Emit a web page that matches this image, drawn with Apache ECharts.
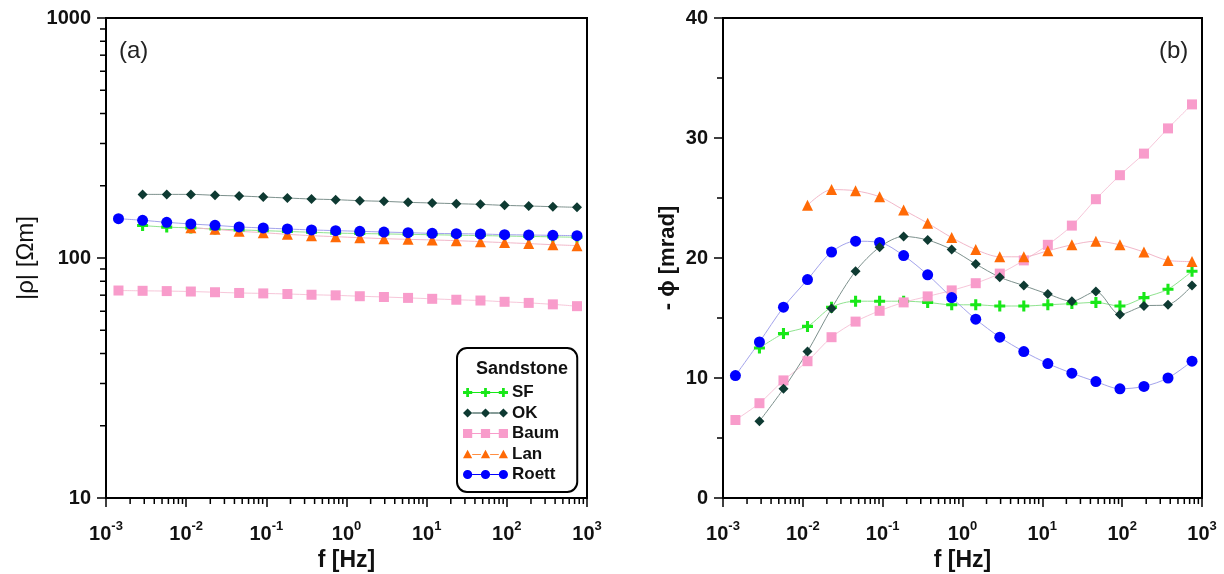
<!DOCTYPE html>
<html>
<head>
<meta charset="utf-8">
<script src="https://cdn.jsdelivr.net/npm/echarts@6/dist/echarts.min.js"></script>
<style>
  html, body { margin: 0; padding: 0; background: #fff; }
  #chart { width: 1224px; height: 574px; }
</style>
</head>
<body>
<div id="chart"></div>
<script>
// frequencies [Hz]
const freqs = [0.001431, 0.002861, 0.005722, 0.01144, 0.02289, 0.04578, 0.09155, 0.1831, 0.3662, 0.7324,
  1.465, 2.93, 5.859, 11.72, 23.44, 46.88, 93.75, 187.5, 375, 750];

// |rho| [Ohm m]
const rhoSF = [null, 136.5, 134.5, 133.5, 132, 131, 130, 129, 128, 127, 126.5, 126, 125.5, 125, 124.5, 124, 123.5, 123, 122.5, 122];
const rhoOK = [null, 184.1, 184.1, 184.1, 182.5, 181.3, 179.6, 177.8, 176.1, 175.0, 173.3, 172.2, 170.6, 169.5, 168.4, 167.3, 165.7, 164.7, 163.6, 162.6];
const rhoBaum = [73.2, 73.0, 72.8, 72.5, 72.0, 71.5, 71.2, 70.8, 70.3, 69.9, 69.3, 68.8, 68.2, 67.6, 67.0, 66.5, 65.7, 65.0, 64.1, 63.0];
const rhoLan = [null, null, null, 133.8, 131.7, 129.2, 127.5, 125.5, 123.9, 122.7, 121.5, 120.4, 119.6, 118.9, 118.1, 117.0, 115.9, 114.8, 113.6, 112.6];
const rhoRoett = [145.8, 143.6, 140.8, 138.6, 136.8, 134.7, 133.4, 132.1, 130.9, 130.0, 129.2, 128.3, 127.5, 126.7, 126.3, 125.9, 125.1, 124.7, 124.3, 123.9];

// -phi [mrad]
const phiSF = [null, 12.5, 13.7, 14.3, 15.9, 16.4, 16.4, 16.4, 16.3, 16.1, 16.1, 16.0, 16.0, 16.1, 16.2, 16.3, 16.0, 16.7, 17.4, 18.9];
const phiOK = [null, 6.4, 9.1, 12.2, 15.8, 18.9, 20.9, 21.8, 21.5, 20.7, 19.5, 18.4, 17.7, 17.0, 16.4, 17.2, 15.3, 16.0, 16.1, 17.7];
const phiBaum = [6.5, 7.9, 9.8, 11.4, 13.4, 14.7, 15.6, 16.3, 16.8, 17.3, 17.9, 18.7, 19.8, 21.1, 22.7, 24.9, 26.9, 28.7, 30.8, 32.8];
const phiLan = [null, null, null, 24.4, 25.7, 25.6, 25.1, 24.0, 22.9, 21.7, 20.7, 20.1, 20.1, 20.6, 21.1, 21.4, 21.1, 20.5, 19.8, 19.7];
const phiRoett = [10.2, 13.0, 15.9, 18.2, 20.5, 21.4, 21.3, 20.2, 18.6, 16.7, 14.9, 13.4, 12.2, 11.2, 10.4, 9.7, 9.1, 9.3, 10.0, 11.4];

const legendNames = ['SF', 'OK', 'Baum', 'Lan', 'Roett'];

const FONT = 'Liberation Sans, Arial, sans-serif';

// marker shapes
const plusPath = 'path://M3.6,0H6.4V3.6H10V6.4H6.4V10H3.6V6.4H0V3.6H3.6Z';

// legend icons: three markers joined by a thin line
function shapeAt(kind, cx, cy, r) {
  if (kind === 'circle') {
    return 'M' + (cx - r) + ',' + cy + 'A' + r + ',' + r + ',0,1,0,' + (cx + r) + ',' + cy +
      'A' + r + ',' + r + ',0,1,0,' + (cx - r) + ',' + cy + 'Z';
  }
  if (kind === 'rect') {
    return 'M' + (cx - r) + ',' + (cy - r) + 'H' + (cx + r) + 'V' + (cy + r) + 'H' + (cx - r) + 'Z';
  }
  if (kind === 'triangle') {
    return 'M' + cx + ',' + (cy - r) + 'L' + (cx + r) + ',' + (cy + r * 0.8) + 'L' + (cx - r) + ',' + (cy + r * 0.8) + 'Z';
  }
  if (kind === 'diamond') {
    return 'M' + cx + ',' + (cy - r) + 'L' + (cx + r) + ',' + cy + 'L' + cx + ',' + (cy + r) + 'L' + (cx - r) + ',' + cy + 'Z';
  }
  // plus
  const t = r * 0.3;
  return 'M' + (cx - t) + ',' + (cy - r) + 'H' + (cx + t) + 'V' + (cy - t) + 'H' + (cx + r) + 'V' + (cy + t) +
    'H' + (cx + t) + 'V' + (cy + r) + 'H' + (cx - t) + 'V' + (cy + t) + 'H' + (cx - r) + 'V' + (cy - t) + 'H' + (cx - t) + 'Z';
}
function legendIcon(kind) {
  const r = 4.5, cy = 5, xs = [5, 22.5, 40];
  let p = 'path://';
  xs.forEach(function (x) { p += shapeAt(kind, x, cy, r); });
  p += 'M9.5,4.6H18V5.4H9.5Z M27,4.6H35.5V5.4H27Z';
  return p;
}

const styles = {
  SF:    { symbol: plusPath, size: 11, color: '#18e818', line: '#8fe38f', icon: 'plus' },
  OK:    { symbol: 'diamond', size: 10, color: '#0e3a32', line: '#7d918d', icon: 'diamond' },
  Baum:  { symbol: 'rect', size: 10, color: '#f89ccb', line: '#f7c6d9', icon: 'rect' },
  Lan:   { symbol: 'triangle', size: 11, color: '#ff6a06', line: '#f2b7c9', icon: 'triangle' },
  Roett: { symbol: 'circle', size: 11, color: '#0000ff', line: '#a3a3ec', icon: 'circle' }
};

function pairs(vals) {
  const out = [];
  vals.forEach(function (v, i) { if (v !== null) out.push([freqs[i], v]); });
  return out;
}

function lineSeries(name, vals, gridIdx) {
  const s = styles[name];
  return {
    name: name,
    type: 'line',
    xAxisIndex: gridIdx,
    yAxisIndex: gridIdx,
    data: pairs(vals),
    smooth: 0.3,
    symbol: s.symbol,
    symbolSize: s.size,
    showAllSymbol: true,
    itemStyle: { color: s.color },
    lineStyle: { color: s.line, width: 1 },
    emphasis: { disabled: true }
  };
}

// minor tick positions for log axes
function logMinor(e0, e1) {
  const out = [];
  for (let e = e0; e < e1; e++) {
    for (let m = 2; m <= 9; m++) out.push(m * Math.pow(10, e));
  }
  return out;
}
const xMinor = logMinor(-3, 3);
const yMinor = logMinor(1, 3);

function xMinorTicks(gridIdx, yBase) {
  return {
    type: 'custom',
    xAxisIndex: gridIdx,
    yAxisIndex: gridIdx,
    silent: true,
    clip: false,
    z: 10,
    data: xMinor.map(function (v) { return [v, yBase]; }),
    renderItem: function (params, api) {
      const p = api.coord([api.value(0), yBase]);
      return {
        type: 'line',
        shape: { x1: p[0], y1: p[1], x2: p[0], y2: p[1] + 6 },
        style: { stroke: '#000', lineWidth: 1.5 }
      };
    }
  };
}

function yMinorTicks() {
  return {
    type: 'custom',
    xAxisIndex: 0,
    yAxisIndex: 0,
    silent: true,
    clip: false,
    z: 10,
    data: yMinor.map(function (v) { return [0.001, v]; }),
    renderItem: function (params, api) {
      const p = api.coord([0.001, api.value(1)]);
      return {
        type: 'line',
        shape: { x1: p[0], y1: p[1], x2: p[0] - 6, y2: p[1] },
        style: { stroke: '#000', lineWidth: 1.5 }
      };
    }
  };
}

const xLabel = {
  fontFamily: FONT,
  margin: 22,
  formatter: function (v) {
    const e = Math.round(Math.log10(v));
    return '{b|10}{s|' + e + '}';
  },
  rich: {
    b: { fontSize: 20, fontWeight: 'bold', color: '#111', fontFamily: FONT, verticalAlign: 'bottom', lineHeight: 24 },
    s: { fontSize: 13, fontWeight: 'bold', color: '#111', fontFamily: FONT, verticalAlign: 'top', lineHeight: 24 }
  }
};

function xAxisCfg(gridIdx) {
  return {
    type: 'log',
    logBase: 10,
    gridIndex: gridIdx,
    min: 0.001,
    max: 1000,
    name: 'f [Hz]',
    nameLocation: 'middle',
    nameGap: 50,
    nameTextStyle: { fontFamily: FONT, fontSize: 23, fontWeight: 'bold', color: '#111' },
    axisLine: { lineStyle: { color: '#000', width: 2 } },
    axisTick: { inside: false, length: 9, lineStyle: { color: '#000', width: 1.5 } },
    axisLabel: xLabel,
    splitLine: { show: false }
  };
}

const chart = echarts.init(document.getElementById('chart'));

const option = {
  animation: false,
  backgroundColor: '#fff',
  title: [
    { text: '(a)', left: 114, top: 34, textStyle: { fontFamily: FONT, fontSize: 24, fontWeight: 'normal', color: '#222' } },
    { text: '(b)', left: 1154, top: 34, textStyle: { fontFamily: FONT, fontSize: 24, fontWeight: 'normal', color: '#222' } },
    { text: 'Sandstone', left: 517, top: 355, textAlign: 'center', textStyle: { fontFamily: FONT, fontSize: 18, fontWeight: 'bold', color: '#111' } }
  ],
  grid: [
    { left: 106, top: 18, width: 481, height: 480, outerBoundsMode: 'none', containLabel: false,
      show: true, borderColor: '#000', borderWidth: 2, backgroundColor: 'transparent' },
    { left: 723, top: 18, width: 479, height: 480, outerBoundsMode: 'none', containLabel: false,
      show: true, borderColor: '#000', borderWidth: 2, backgroundColor: 'transparent' }
  ],
  legend: {
    data: legendNames.map(function (n) { return { name: n, icon: legendIcon(styles[n].icon) }; }),
    orient: 'vertical',
    left: 457,
    top: 348,
    itemWidth: 45,
    itemHeight: 10,
    itemGap: 3.5,
    padding: [36, 18, 9, 6],
    borderColor: '#000',
    borderWidth: 2,
    borderRadius: 10,
    backgroundColor: '#fff',
    selectedMode: false,
    textStyle: { fontFamily: FONT, fontSize: 17, fontWeight: 'bold', color: '#111', padding: [0, 0, 0, -1] }
  },
  xAxis: [xAxisCfg(0), xAxisCfg(1)],
  yAxis: [
    {
      type: 'log',
      logBase: 10,
      gridIndex: 0,
      min: 10,
      max: 1000,
      name: '|ρ| [Ωm]',
      nameLocation: 'middle',
      nameGap: 68,
      nameTextStyle: { fontFamily: FONT, fontSize: 24, fontWeight: 'normal', color: '#111' },
      axisLine: { lineStyle: { color: '#000', width: 2 } },
      axisTick: { length: 9, lineStyle: { color: '#000', width: 1.5 } },
      axisLabel: {
        fontFamily: FONT, fontSize: 20, fontWeight: 'bold', color: '#111', margin: 15,
        formatter: function (v) { return String(Math.round(v)); }
      },
      splitLine: { show: false }
    },
    {
      type: 'value',
      gridIndex: 1,
      min: 0,
      max: 40,
      interval: 10,
      name: '- ϕ [mrad]',
      nameLocation: 'middle',
      nameGap: 44,
      nameTextStyle: { fontFamily: FONT, fontSize: 22, fontWeight: 'bold', color: '#111' },
      axisLine: { lineStyle: { color: '#000', width: 2 } },
      axisTick: { length: 9, lineStyle: { color: '#000', width: 1.5 } },
      minorTick: { show: true, splitNumber: 2, length: 6, lineStyle: { color: '#000', width: 1.5 } },
      axisLabel: { fontFamily: FONT, fontSize: 20, fontWeight: 'bold', color: '#111', margin: 15 },
      splitLine: { show: false },
      minorSplitLine: { show: false }
    }
  ],
  series: [
    lineSeries('SF', rhoSF, 0),
    lineSeries('Baum', rhoBaum, 0),
    lineSeries('Lan', rhoLan, 0),
    lineSeries('Roett', rhoRoett, 0),
    lineSeries('OK', rhoOK, 0),
    lineSeries('SF', phiSF, 1),
    lineSeries('Baum', phiBaum, 1),
    lineSeries('Lan', phiLan, 1),
    lineSeries('Roett', phiRoett, 1),
    lineSeries('OK', phiOK, 1),
    xMinorTicks(0, 10),
    xMinorTicks(1, 0),
    yMinorTicks()
  ]
};

chart.setOption(option);
</script>
</body>
</html>
